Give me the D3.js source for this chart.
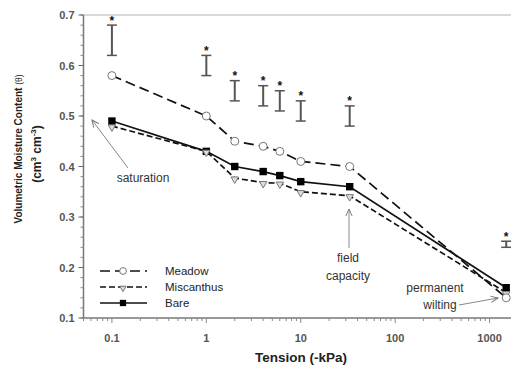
<!DOCTYPE html>
<html>
<head>
<meta charset="utf-8">
<script src="https://cdn.jsdelivr.net/npm/d3@7"></script>
<style>
  body { margin: 0; background: #fff; }
  svg { display: block; font-family: "Liberation Sans", Arial, sans-serif; }
</style>
</head>
<body>
<svg id="chart" width="511" height="368"></svg>
<script>
// tension (kPa) where each series was measured
const tension = [0.1, 1, 2, 4, 6, 10, 33, 1500];
const meadow = [0.58, 0.50, 0.45, 0.44, 0.43, 0.41, 0.40, 0.14];
const miscanthus = [0.48, 0.43, 0.377, 0.368, 0.367, 0.35, 0.342, 0.15];
const bare = [0.49, 0.43, 0.40, 0.39, 0.382, 0.37, 0.36, 0.16];
// significance bars (low, high) per tension
const sigLow = [0.62, 0.58, 0.53, 0.52, 0.51, 0.49, 0.48, 0.24];
const sigHigh = [0.68, 0.62, 0.57, 0.56, 0.55, 0.53, 0.52, 0.252];
const yTicks = [0.1, 0.2, 0.3, 0.4, 0.5, 0.6, 0.7];
const xTicks = [0.1, 1, 10, 100, 1000];

const svg = d3.select('#chart');
const x = d3.scaleLog().domain([0.05, 2000]).range([83.5, 518]);
const y = d3.scaleLinear().domain([0.1, 0.7]).range([318, 15]);

// frame top line
svg.append('line')
  .attr('x1', x(0.05)).attr('x2', 511)
  .attr('y1', y(0.7)).attr('y2', y(0.7))
  .attr('stroke', '#ccc').attr('stroke-width', 1.5);

// y axis
const yMinor = d3.range(0.1, 0.7001, 0.02);
const yAxis = svg.append('g').attr('transform', `translate(${x(0.05)},0)`);
yAxis.append('line').attr('y1', y(0.1)).attr('y2', y(0.7))
  .attr('stroke', '#777').attr('stroke-width', 1.5);
yAxis.selectAll('.minor').data(yMinor).join('line')
  .attr('x1', -3).attr('x2', 0)
  .attr('y1', d => y(d)).attr('y2', d => y(d))
  .attr('stroke', '#888');
yAxis.selectAll('.major').data(yTicks).join('line')
  .attr('x1', -5).attr('x2', 0)
  .attr('y1', d => y(d)).attr('y2', d => y(d))
  .attr('stroke', '#666');
yAxis.selectAll('text').data(yTicks).join('text')
  .attr('x', -9).attr('y', d => y(d) + 4)
  .attr('text-anchor', 'end').attr('font-size', 11).attr('font-weight', 'bold')
  .attr('fill', '#555')
  .text(d => d3.format('.1f')(d));

// x axis
const xMinor = [];
for (let e = -2; e <= 3; e++) {
  for (let m = 1; m <= 9; m++) {
    const v = m * Math.pow(10, e);
    if (v >= 0.05 && v <= 2000) xMinor.push(v);
  }
}
const xAxis = svg.append('g').attr('transform', `translate(0,${y(0.1)})`);
xAxis.append('line').attr('x1', x(0.05)).attr('x2', 511)
  .attr('stroke', '#777').attr('stroke-width', 1.5);
xAxis.selectAll('.minor').data(xMinor).join('line')
  .attr('x1', d => x(d)).attr('x2', d => x(d))
  .attr('y1', 0).attr('y2', d => xTicks.includes(d) ? 5 : 3)
  .attr('stroke', '#888');
xAxis.selectAll('text').data(xTicks).join('text')
  .attr('x', d => x(d)).attr('y', 24)
  .attr('text-anchor', 'middle').attr('font-size', 11).attr('font-weight', 'bold')
  .attr('fill', '#555')
  .text(d => String(d));

// axis titles
svg.append('text')
  .attr('x', 301).attr('y', 362)
  .attr('text-anchor', 'middle').attr('font-size', 13.5).attr('font-weight', 'bold')
  .attr('fill', '#222')
  .text('Tension (-kPa)');

const yt = svg.append('text')
  .attr('transform', 'translate(22,149) rotate(-90)')
  .attr('text-anchor', 'middle').attr('font-size', 10).attr('font-weight', 'bold')
  .attr('fill', '#222');
yt.append('tspan').text('Volumetric Moisture Content ');
yt.append('tspan').attr('font-weight', 'normal').attr('font-size', 8.5).text('(θ)');
const yt2 = svg.append('text')
  .attr('transform', 'translate(41,154) rotate(-90)')
  .attr('text-anchor', 'middle').attr('font-size', 12).attr('font-weight', 'bold')
  .attr('fill', '#222');
yt2.append('tspan').text('(cm');
yt2.append('tspan').attr('font-size', 8).attr('dy', -5).text('3');
yt2.append('tspan').attr('dy', 5).text(' cm');
yt2.append('tspan').attr('font-size', 8).attr('dy', -5).text('-3');
yt2.append('tspan').attr('dy', 5).text(')');

// significance bars
const sig = svg.append('g');
tension.forEach((t, i) => {
  const cx = x(t);
  sig.append('line').attr('x1', cx).attr('x2', cx)
    .attr('y1', y(sigLow[i])).attr('y2', y(sigHigh[i]))
    .attr('stroke', '#555').attr('stroke-width', 2);
  [sigLow[i], sigHigh[i]].forEach(v => {
    sig.append('line').attr('x1', cx - 5).attr('x2', cx + 5)
      .attr('y1', y(v)).attr('y2', y(v))
      .attr('stroke', '#555').attr('stroke-width', 1.5);
  });
  sig.append('text').attr('x', cx).attr('y', y(sigHigh[i]) - 0.5)
    .attr('text-anchor', 'middle').attr('font-size', 12).attr('font-weight', 'bold')
    .attr('fill', '#111').text('*');
});

// series
const series = [
  { name: 'Meadow', values: meadow, dash: '10,5', marker: 'circle' },
  { name: 'Miscanthus', values: miscanthus, dash: '6,3', marker: 'triangle' },
  { name: 'Bare', values: bare, dash: null, marker: 'square' }
];
const line = d3.line().x(d => x(d[0])).y(d => y(d[1]));

function drawMarker (g, kind, cx, cy, k) {
  if (kind === 'circle') {
    g.append('circle').attr('cx', cx).attr('cy', cy).attr('r', 4 * k)
      .attr('fill', '#fff').attr('stroke', '#777').attr('stroke-width', 1);
  } else if (kind === 'triangle') {
    g.append('path')
      .attr('d', d3.symbol(d3.symbolTriangle, 24 * k * k)())
      .attr('transform', `translate(${cx},${cy + 1}) rotate(180)`)
      .attr('fill', '#ddd').attr('stroke', '#777').attr('stroke-width', 1);
  } else {
    g.append('rect').attr('x', cx - 3.7 * k).attr('y', cy - 3.7 * k)
      .attr('width', 7.4 * k).attr('height', 7.4 * k).attr('fill', '#000');
  }
}

series.slice().reverse().forEach(s => {
  const g = svg.append('g');
  g.append('path')
    .datum(tension.map((t, i) => [t, s.values[i]]))
    .attr('d', line)
    .attr('fill', 'none').attr('stroke', '#111').attr('stroke-width', 1.7)
    .attr('stroke-dasharray', s.dash);
  tension.forEach((t, i) => drawMarker(g, s.marker, x(t), y(s.values[i]), 1));
});

// legend
const legend = svg.append('g');
series.forEach((s, i) => {
  const ly = 271 + i * 16;
  legend.append('line').attr('x1', 100).attr('x2', 147)
    .attr('y1', ly).attr('y2', ly)
    .attr('stroke', '#111').attr('stroke-width', 1.7)
    .attr('stroke-dasharray', s.dash);
  drawMarker(legend, s.marker, 123, ly, 0.85);
  legend.append('text').attr('x', 165).attr('y', ly + 4)
    .attr('font-size', 11.5).attr('fill', '#222').text(s.name);
});

// annotations
const ann = svg.append('g').attr('fill', '#333').attr('font-size', 12);
svg.append('defs').append('marker')
  .attr('id', 'arr').attr('viewBox', '0 0 10 10').attr('refX', 9).attr('refY', 5)
  .attr('markerWidth', 8).attr('markerHeight', 8).attr('orient', 'auto')
  .append('path').attr('d', 'M0,1 L9,5 L0,9').attr('fill', 'none')
  .attr('stroke', '#777').attr('stroke-width', 1.2);

function arrow (x1, y1, x2, y2) {
  svg.append('line').attr('x1', x1).attr('y1', y1).attr('x2', x2).attr('y2', y2)
    .attr('stroke', '#888').attr('stroke-width', 1)
    .attr('marker-end', 'url(#arr)');
}

ann.append('text').attr('x', 143).attr('y', 182).attr('text-anchor', 'middle').text('saturation');
arrow(128, 168, 92, 120);

ann.append('text').attr('x', 348).attr('y', 262).attr('text-anchor', 'middle').text('field');
ann.append('text').attr('x', 348).attr('y', 280).attr('text-anchor', 'middle').text('capacity');
arrow(349, 248, 349, 209);

ann.append('text').attr('x', 435).attr('y', 292).attr('text-anchor', 'middle').text('permanent');
ann.append('text').attr('x', 440).attr('y', 309).attr('text-anchor', 'middle').text('wilting');
arrow(459, 305, 498, 298);
</script>
</body>
</html>
